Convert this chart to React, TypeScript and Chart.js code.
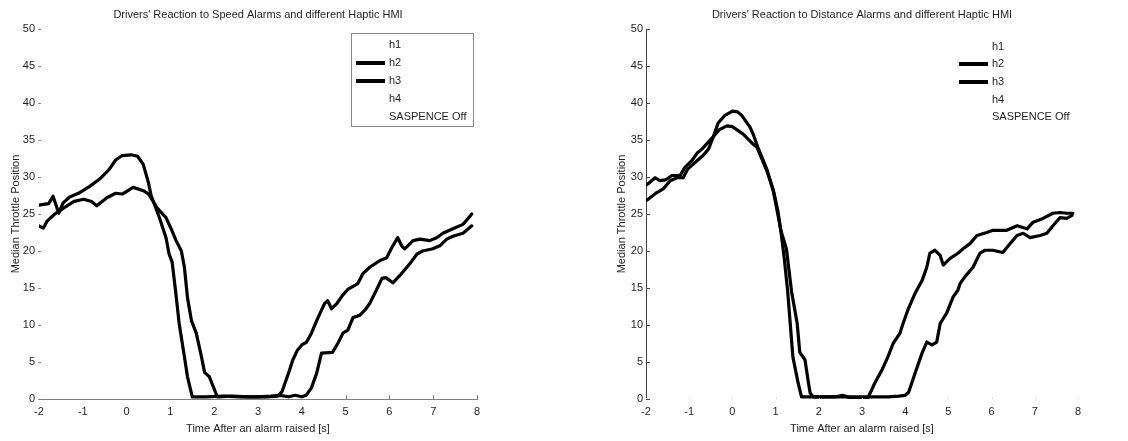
import React, { useEffect, useRef } from "react";
import { Chart, registerables } from "chart.js";

Chart.register(...registerables);

const FONT_FAMILY = '"Liberation Sans", Arial, Helvetica, sans-serif';
const TEXT_COLOR = "#1e1e1e";

const speedTitle = "Drivers' Reaction to Speed Alarms and different Haptic HMI";
const distanceTitle = "Drivers' Reaction to Distance Alarms and different Haptic HMI";
const xAxisTitle = "Time After an alarm raised [s]";
const yAxisTitle = "Median Throttle Position";
const legendLabels = ["h1", "h2", "h3", "h4", "SASPENCE Off"];
const yTickValues = [0, 5, 10, 15, 20, 25, 30, 35, 40, 45, 50];
const speedXTickMarks = [5, 6, 7, 8];
const distanceXTickMarks = [-2, -1, 0, 1, 2, 3, 4, 5, 6, 7, 8];

// ---- Speed alarms (left) ----
const speedH2T = [-2.0, -1.9, -1.78, -1.68, -1.6, -1.55, -1.45, -1.3, -1.1, -0.85, -0.6, -0.4, -0.25, -0.1, 0.1, 0.25, 0.38, 0.5, 0.56, 0.75, 0.9, 0.97, 1.04, 1.12, 1.2, 1.32, 1.39, 1.5, 1.8, 2.2, 2.6, 3.0, 3.3, 3.5, 3.7, 3.85, 4.0, 4.1, 4.22, 4.34, 4.45, 4.7, 4.82, 4.94, 5.05, 5.17, 5.32, 5.44, 5.55, 5.71, 5.83, 5.92, 6.08, 6.24, 6.47, 6.63, 6.76, 6.99, 7.15, 7.31, 7.45, 7.68, 7.88];
const speedH2V = [26.2, 26.3, 26.4, 27.4, 26.0, 25.1, 26.5, 27.3, 27.8, 28.7, 29.8, 31.0, 32.3, 32.9, 33.0, 32.8, 31.7, 29.2, 27.5, 24.5, 21.8, 19.6, 18.5, 14.5, 10.2, 5.7, 3.0, 0.3, 0.3, 0.4, 0.3, 0.3, 0.4, 0.5, 0.3, 0.5, 0.3, 0.5, 1.5, 3.5, 6.2, 6.3, 7.5, 8.9, 9.3, 11.0, 11.3, 12.0, 12.9, 14.8, 16.3, 16.4, 15.7, 16.7, 18.3, 19.6, 20.0, 20.3, 20.7, 21.6, 22.0, 22.4, 23.4];

const speedH3T = [-2.0, -1.9, -1.82, -1.64, -1.44, -1.2, -0.98, -0.8, -0.68, -0.45, -0.25, -0.1, 0.15, 0.4, 0.5, 0.7, 0.9, 1.04, 1.13, 1.25, 1.32, 1.39, 1.48, 1.59, 1.71, 1.78, 1.89, 2.07, 2.4, 2.8, 3.2, 3.45, 3.55, 3.72, 3.79, 3.9, 4.0, 4.11, 4.22, 4.34, 4.45, 4.52, 4.59, 4.68, 4.8, 4.93, 5.05, 5.16, 5.28, 5.39, 5.55, 5.78, 5.94, 6.05, 6.19, 6.28, 6.35, 6.54, 6.7, 6.92, 7.08, 7.22, 7.45, 7.68, 7.84, 7.88];
const speedH3V = [23.4, 23.1, 24.0, 25.0, 25.8, 26.7, 27.0, 26.7, 26.1, 27.2, 27.8, 27.7, 28.6, 28.1, 27.7, 25.8, 24.5, 22.7, 21.4, 20.0, 17.8, 13.7, 10.6, 8.9, 5.7, 3.6, 3.0, 0.3, 0.4, 0.3, 0.3, 0.4, 1.0, 3.9, 5.2, 6.6, 7.3, 7.7, 8.9, 10.6, 12.0, 12.9, 13.3, 12.2, 12.9, 14.0, 14.8, 15.2, 15.6, 16.9, 17.8, 18.7, 19.1, 20.4, 21.8, 20.7, 20.3, 21.4, 21.6, 21.4, 21.8, 22.4, 23.0, 23.6, 24.7, 25.0];

// ---- Distance alarms (right) ----
const distH2T = [-2.0, -1.95, -1.75, -1.6, -1.44, -1.28, -1.14, -1.03, -0.82, -0.68, -0.55, -0.45, -0.33, -0.18, 0.0, 0.12, 0.22, 0.41, 0.48, 0.59, 0.8, 0.95, 1.05, 1.12, 1.2, 1.28, 1.4, 1.52, 1.6, 2.0, 2.4, 2.55, 2.7, 2.9, 3.05, 3.14, 3.3, 3.46, 3.6, 3.72, 3.88, 3.95, 4.06, 4.23, 4.39, 4.5, 4.57, 4.69, 4.81, 4.88, 5.04, 5.22, 5.34, 5.5, 5.66, 5.89, 6.03, 6.35, 6.59, 6.82, 6.96, 7.19, 7.42, 7.58, 7.74, 7.88];
const distH2V = [26.8, 27.0, 27.9, 28.4, 29.5, 29.9, 29.9, 31.1, 32.2, 32.9, 33.8, 35.3, 37.3, 38.3, 38.9, 38.8, 38.3, 36.7, 35.8, 34.0, 31.0, 28.0, 25.0, 22.8, 19.0, 14.5, 5.7, 2.2, 0.3, 0.3, 0.3, 0.5, 0.2, 0.2, 0.1, 0.2, 2.2, 3.9, 5.7, 7.5, 8.9, 10.2, 12.0, 14.3, 16.0, 17.8, 19.7, 20.1, 19.4, 18.1, 19.0, 19.7, 20.3, 21.0, 22.1, 22.5, 22.8, 22.8, 23.4, 23.0, 23.9, 24.4, 25.1, 25.2, 25.1, 25.1];

const distH3T = [-2.0, -1.95, -1.79, -1.68, -1.55, -1.4, -1.21, -1.1, -0.94, -0.82, -0.7, -0.59, -0.45, -0.3, -0.13, 0.0, 0.25, 0.45, 0.57, 0.8, 0.95, 1.05, 1.12, 1.25, 1.37, 1.5, 1.56, 1.68, 1.76, 1.8, 1.87, 2.3, 2.8, 3.2, 3.6, 3.85, 4.0, 4.08, 4.23, 4.39, 4.5, 4.62, 4.73, 4.81, 4.96, 5.11, 5.22, 5.27, 5.38, 5.57, 5.73, 5.85, 6.03, 6.26, 6.43, 6.59, 6.73, 6.89, 7.12, 7.28, 7.42, 7.58, 7.74, 7.86];
const distH3V = [28.9, 29.1, 29.9, 29.5, 29.6, 30.2, 30.2, 31.3, 32.2, 33.2, 33.8, 34.5, 35.4, 36.4, 36.9, 36.8, 35.8, 34.6, 34.0, 30.8, 28.2, 25.5, 22.8, 20.3, 14.5, 10.2, 6.3, 5.3, 2.2, 0.8, 0.3, 0.3, 0.3, 0.3, 0.3, 0.4, 0.5, 0.9, 3.5, 6.2, 7.7, 7.3, 7.7, 10.2, 11.6, 13.8, 14.7, 15.6, 16.5, 17.8, 19.7, 20.1, 20.1, 19.8, 21.0, 22.1, 22.4, 21.8, 22.1, 22.4, 23.4, 24.5, 24.4, 24.8];

function pts(t: number[], v: number[]) {
  return t.map((x, i) => ({ x, y: v[i] }));
}

const decorPlugin = {
  id: "decor",
  afterDatasetsDraw(chart: any, _args: any, o: any) {
    const ctx = chart.ctx;
    const area = chart.chartArea;
    const xs = chart.scales.x;
    const ys = chart.scales.y;
    ctx.save();
    ctx.lineWidth = 1;
    ctx.strokeStyle = o.yTickColor;
    for (const v of o.yTicks) {
      const py = Math.round(ys.getPixelForValue(v)) + 0.5;
      ctx.beginPath();
      ctx.moveTo(area.left + o.yTickStart, py);
      ctx.lineTo(area.left + o.yTickStart + o.yTickLen, py);
      ctx.stroke();
    }
    ctx.strokeStyle = o.xTickColor;
    for (const v of o.xTicks) {
      const px = Math.round(xs.getPixelForValue(v)) + 0.5;
      ctx.beginPath();
      ctx.moveTo(px, area.bottom);
      ctx.lineTo(px, area.bottom - o.xTickLen);
      ctx.stroke();
    }
    const lg = o.legend;
    const left = area.right - lg.fromRight;
    const top = area.top + lg.top;
    if (lg.box) {
      ctx.strokeStyle = lg.boxColor;
      ctx.lineWidth = 1;
      ctx.strokeRect(Math.round(left) + 0.5, Math.round(top) + 0.5, lg.width, lg.height);
    }
    ctx.font = `11px ${FONT_FAMILY}`;
    ctx.textBaseline = "middle";
    ctx.textAlign = "left";
    ctx.fillStyle = TEXT_COLOR;
    chart.data.datasets.forEach((ds: any, i: number) => {
      const cy = Math.round(top + lg.firstRow + i * lg.rowGap);
      ctx.strokeStyle = ds.borderColor;
      ctx.lineWidth = 4;
      ctx.beginPath();
      ctx.moveTo(left + lg.sampleStart, cy);
      ctx.lineTo(left + lg.sampleStart + lg.sampleLen, cy);
      ctx.stroke();
      ctx.fillText(ds.label, left + lg.textStart, cy);
    });
    ctx.restore();
  },
};

function makeConfig(p: any) {
  const font = { family: FONT_FAMILY, size: 11, weight: "normal" as const };
  const lineDs = (label: string, data: any[], color: string, width: number) => ({
    label,
    data,
    borderColor: color,
    backgroundColor: color,
    borderWidth: width,
    pointRadius: 0,
    tension: 0,
    fill: false,
    borderCapStyle: "round",
    borderJoinStyle: "round",
  });
  return {
    type: "line",
    data: {
      datasets: [
        lineDs(legendLabels[0], [], "#ffffff", 1),
        lineDs(legendLabels[1], p.h2, "#000000", 3.2),
        lineDs(legendLabels[2], p.h3, "#000000", 3.2),
        lineDs(legendLabels[3], [], "#ffffff", 1),
        lineDs(legendLabels[4], [], "#ffffff", 1),
      ],
    },
    plugins: [decorPlugin],
    options: {
      responsive: false,
      animation: false,
      events: [],
      layout: { padding: { left: 0, right: p.padRight, top: 0, bottom: 0 } },
      plugins: {
        legend: { display: false },
        tooltip: { enabled: false },
        title: {
          display: true,
          fullSize: false,
          text: p.title,
          color: TEXT_COLOR,
          font,
          padding: { top: 8, bottom: 7.8 },
        },
        decor: p.decor,
      },
      scales: {
        x: {
          type: "linear",
          min: -2,
          max: 8,
          ticks: { stepSize: 1, color: TEXT_COLOR, font, padding: 6, maxRotation: 0, autoSkip: false },
          grid: { display: false, drawTicks: false },
          border: { display: p.xBorder, color: "#808080", width: 1 },
          title: { display: true, text: xAxisTitle, color: TEXT_COLOR, font, padding: { top: 0, bottom: 5.4 } },
          afterFit: (s: any) => {
            s.height = 42;
          },
        },
        y: {
          type: "linear",
          min: 0,
          max: 50,
          ticks: { stepSize: 5, color: TEXT_COLOR, font, padding: p.yLabelPad },
          grid: { display: false, drawTicks: false },
          border: { display: p.yBorder, color: "#404040", width: 1 },
          title: { display: true, text: yAxisTitle, color: TEXT_COLOR, font, padding: { top: p.yTitlePad, bottom: 0 } },
          afterFit: (s: any) => {
            s.width = p.yWidth;
          },
        },
      },
    },
  };
}

const speedConfig = makeConfig({
  title: speedTitle,
  h2: pts(speedH2T, speedH2V),
  h3: pts(speedH3T, speedH3V),
  padRight: 43,
  yWidth: 39,
  yLabelPad: 4,
  yTitlePad: 9.5,
  xBorder: true,
  yBorder: false,
  decor: {
    yTicks: yTickValues,
    yTickColor: "#8c8c8c",
    yTickStart: -1,
    yTickLen: 3,
    xTicks: speedXTickMarks,
    xTickColor: "#808080",
    xTickLen: 4,
    legend: { fromRight: 126, top: 4, width: 122, height: 93, box: true, boxColor: "#8a8a8a", firstRow: 12, rowGap: 17.9, sampleStart: 5, sampleLen: 29, textStart: 38 },
  },
});

const distanceConfig = makeConfig({
  title: distanceTitle,
  h2: pts(distH2T, distH2V),
  h3: pts(distH3T, distH3V),
  padRight: 50,
  yWidth: 46,
  yLabelPad: 3,
  yTitlePad: 15.4,
  xBorder: false,
  yBorder: true,
  decor: {
    yTicks: yTickValues,
    yTickColor: "#404040",
    yTickStart: 0,
    yTickLen: 4,
    xTicks: distanceXTickMarks,
    xTickColor: "#c8c8c8",
    xTickLen: 1,
    legend: { fromRight: 123, top: 6, width: 123, height: 92, box: false, boxColor: "#8a8a8a", firstRow: 11.7, rowGap: 17.65, sampleStart: 4, sampleLen: 29, textStart: 37 },
  },
});

function ChartCanvas({ config, left, width }: { config: any; left: number; width: number }) {
  const ref = useRef<HTMLCanvasElement>(null);
  useEffect(() => {
    const chart = new Chart(ref.current as HTMLCanvasElement, config);
    return () => chart.destroy();
  }, [config]);
  return (
    <canvas
      ref={ref}
      width={width}
      height={441}
      style={{ position: "absolute", left, top: 0, width, height: 441, display: "block" }}
    />
  );
}

export default function App() {
  return (
    <div style={{ position: "fixed", left: 0, top: 0, width: 1128, height: 441, background: "#ffffff", overflow: "hidden" }}>
      <ChartCanvas config={speedConfig} left={0} width={520} />
      <ChartCanvas config={distanceConfig} left={600} width={528} />
    </div>
  );
}
